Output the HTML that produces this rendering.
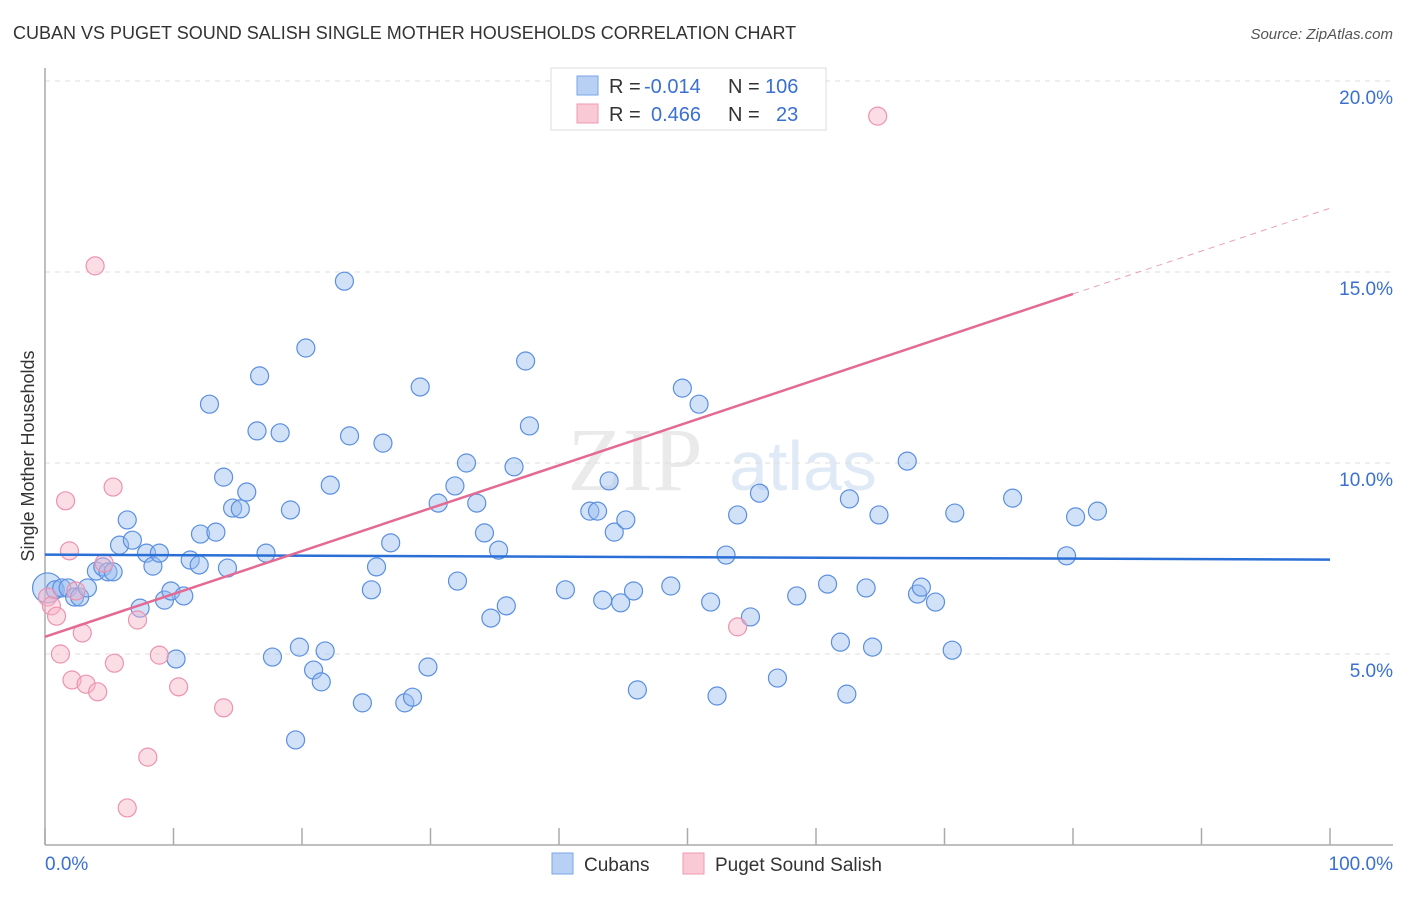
<!DOCTYPE html>
<html><head><meta charset="utf-8"><style>
body{margin:0;background:#fff;font-family:"Liberation Sans",sans-serif}
</style></head><body>
<svg id="c" width="1406" height="892" xmlns="http://www.w3.org/2000/svg" font-family="Liberation Sans, sans-serif">
<text x="13" y="39" font-size="18" fill="#333">CUBAN VS PUGET SOUND SALISH SINGLE MOTHER HOUSEHOLDS CORRELATION CHART</text>
<text x="1393" y="39" font-size="15" fill="#555" text-anchor="end" font-style="italic">Source: ZipAtlas.com</text>
<text x="0" y="0" transform="translate(34,456) rotate(-90)" font-size="18" fill="#333" text-anchor="middle">Single Mother Households</text>
<g opacity="0.3"><text x="635" y="490" font-size="90" font-family="Liberation Serif, serif" fill="#bbb" text-anchor="middle">ZIP</text><text x="803" y="490" font-size="70" fill="#9bbce8" text-anchor="middle">atlas</text></g>
<g id="grid"></g><g id="axes"></g><g id="pts"></g><g id="trend"></g>
<g>
<rect x="551" y="68" width="275" height="62" fill="#fff" stroke="#ddd"/>
<rect x="577" y="76" width="21" height="19" fill="#b8d0f3" stroke="#7aa6e8"/>
<rect x="577" y="104" width="21" height="19" fill="#f9c9d6" stroke="#ee9ab3"/>
<text x="609" y="93" font-size="20" fill="#333">R = <tspan fill="#3a70d0" x="644">-0.014</tspan></text>
<text x="728" y="93" font-size="20" fill="#333">N = <tspan fill="#3a70d0" x="765">106</tspan></text>
<text x="609" y="121" font-size="20" fill="#333">R = <tspan fill="#3a70d0" x="651">0.466</tspan></text>
<text x="728" y="121" font-size="20" fill="#333">N = <tspan fill="#3a70d0" x="776">23</tspan></text>
</g>
<g>
<rect x="552" y="853" width="21" height="21" fill="#b8d0f3" stroke="#7aa6e8"/>
<text x="584" y="871" font-size="19" fill="#333">Cubans</text>
<rect x="683" y="853" width="21" height="21" fill="#f9c9d6" stroke="#ee9ab3"/>
<text x="715" y="871" font-size="19" fill="#333">Puget Sound Salish</text>
</g>
</svg>
<script>
const blueX=[0.2,0.8,1.3,1.8,2.3,2.7,3.3,4.0,4.5,4.9,5.3,5.8,6.4,6.8,7.4,7.9,8.4,8.9,9.3,9.8,10.2,10.8,11.3,12.0,12.1,12.8,13.3,13.9,14.2,14.6,15.2,15.7,16.5,16.7,17.2,17.7,18.3,19.1,19.5,19.8,20.3,20.9,21.5,21.8,22.2,23.3,23.7,24.7,25.4,25.8,26.3,26.9,28.0,28.6,29.2,29.8,30.6,31.9,32.1,32.8,33.6,34.2,34.7,35.3,35.9,36.5,37.4,37.7,40.5,42.4,43.0,43.4,43.9,44.3,44.8,45.2,45.8,46.1,48.7,49.6,50.9,51.8,52.3,53.0,53.9,54.9,55.6,57.0,58.5,60.9,61.9,62.4,62.6,63.9,64.4,64.9,67.1,67.9,68.2,69.3,70.6,70.8,75.3,79.5,80.2,81.9];
const blueY=[6.73,6.68,6.73,6.73,6.49,6.49,6.73,7.17,7.28,7.15,7.15,7.85,8.51,7.98,6.20,7.64,7.30,7.64,6.41,6.65,4.87,6.52,7.46,7.33,8.14,11.54,8.19,9.63,7.25,8.82,8.80,9.24,10.84,12.28,7.64,4.92,10.79,8.77,2.75,5.18,13.01,4.58,4.27,5.08,9.42,14.76,10.71,3.72,6.68,7.28,10.52,7.91,3.72,3.87,11.99,4.66,8.95,9.40,6.91,10.0,8.95,8.17,5.94,7.72,6.26,9.90,12.67,10.97,6.68,8.74,8.74,6.41,9.53,8.19,6.34,8.51,6.65,4.06,6.78,11.96,11.54,6.36,3.90,7.59,8.64,5.97,9.21,4.37,6.52,6.83,5.31,3.95,9.06,6.73,5.18,8.64,10.05,6.57,6.75,6.36,5.10,8.69,9.08,7.57,8.59,8.74];
const pinkX=[0.2,0.5,0.9,1.2,1.6,1.9,2.1,2.4,2.9,3.2,3.9,4.1,4.6,5.3,5.4,6.4,7.2,8.0,8.9,10.4,13.9,53.9,64.8];
const pinkY=[6.49,6.26,5.99,5.0,9.01,7.70,4.32,6.65,5.55,4.21,15.16,4.01,7.38,9.37,4.76,0.97,5.89,2.30,4.97,4.14,3.59,5.71,19.08];
const yTicks=[5,10,15,20];
const yTickLabels=["5.0%","10.0%","15.0%","20.0%"];
const xTicks=[0,10,20,30,40,50,60,70,80,90,100];
const blueTrend=[7.60,7.47];
const pinkTrend=[5.45,16.67];
const pinkSolidEnd=80;
const NS='http://www.w3.org/2000/svg';
const X=v=>45+v*12.85, Y=v=>845-v*38.2;
function mk(p,t,a){const e=document.createElementNS(NS,t);for(const k in a)e.setAttribute(k,a[k]);document.getElementById(p).appendChild(e);return e;}
yTicks.forEach((t,i)=>{
 const g=mk('grid','line',{x1:45,x2:1393,y1:Y(t),y2:Y(t),stroke:'#ddd','stroke-dasharray':'5,5'});
 
 
 const l=mk('grid','text',{x:1393,y:Y(t)+23,'font-size':19,fill:'#3a70d0','text-anchor':'end'});
 l.textContent=yTickLabels[i];
 
 
});
const ya=mk('axes','line',{x1:45,x2:45,y1:68,y2:845,stroke:'#aaa','stroke-width':1.5});


const xa=mk('axes','line',{x1:45,x2:1393,y1:845,y2:845,stroke:'#aaa','stroke-width':1.5});


xTicks.forEach(t=>{
 const k=mk('axes','line',{x1:X(t),x2:X(t),y1:828,y2:845,stroke:'#aaa','stroke-width':1.5});
 
 
});
const xMinLabel=mk('axes','text',{x:45,y:870,'font-size':19,fill:'#3a70d0'});xMinLabel.textContent='0.0%';


const xMaxLabel=mk('axes','text',{x:1393,y:870,'font-size':19,fill:'#3a70d0','text-anchor':'end'});xMaxLabel.textContent='100.0%';


blueX.forEach((v,i)=>{
 const c=mk('pts','circle',{cx:X(v),cy:Y(blueY[i]),r:i===0?15:9,fill:'rgba(150,188,240,0.45)',stroke:'#5b8fe0','stroke-width':1.2});
 
 
});
pinkX.forEach((v,i)=>{
 const c=mk('pts','circle',{cx:X(v),cy:Y(pinkY[i]),r:9,fill:'rgba(247,180,200,0.45)',stroke:'#ec93ae','stroke-width':1.2});
 
 
});
const bt=mk('trend','line',{x1:X(0),y1:Y(blueTrend[0]),x2:X(100),y2:Y(blueTrend[1]),stroke:'#2a6fd6','stroke-width':2.5});


const pm=pinkTrend[0]+(pinkTrend[1]-pinkTrend[0])*pinkSolidEnd/100;
const pt=mk('trend','line',{x1:X(0),y1:Y(pinkTrend[0]),x2:X(pinkSolidEnd),y2:Y(pm),stroke:'#e46a94','stroke-width':2.5});


const pd=mk('trend','line',{x1:X(pinkSolidEnd),y1:Y(pm),x2:X(100),y2:Y(pinkTrend[1]),stroke:'#e8a0b8','stroke-width':1,'stroke-dasharray':'6,5'});


</script>
</body></html>
